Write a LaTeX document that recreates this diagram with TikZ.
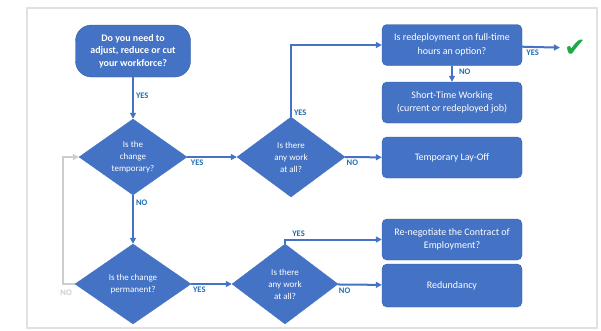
\documentclass[tikz,border=0pt]{standalone}
\usepackage{fontspec}
\setmainfont{Carlito}
\newfontfamily\symfont{DejaVu Sans}
\usetikzlibrary{shapes.geometric,arrows.meta}
\definecolor{boxblue}{RGB}{68,114,196}
\definecolor{edgeblue}{RGB}{52,90,160}
\definecolor{lblblue}{RGB}{31,110,180}
\definecolor{tickgreen}{RGB}{30,170,70}
\definecolor{loopgray}{RGB}{205,205,205}
\definecolor{framegray}{RGB}{225,225,225}
\begin{document}
\begin{tikzpicture}[x=1pt,y=-1pt,
  box/.style={draw=edgeblue,fill=boxblue,rounded corners=5pt,minimum width=140pt,minimum height=41pt,
    text=white,align=center,inner sep=2pt,font=\fontsize{10}{13.5}\selectfont},
  startbox/.style={box,rounded corners=16pt,minimum width=115pt,minimum height=52pt,
    font=\bfseries\fontsize{10}{12.5}\selectfont},
  dia/.style={diamond,draw=boxblue,fill=boxblue,text=white,align=center,inner sep=0pt,
    minimum width=108pt,minimum height=80pt,font=\fontsize{9}{12}\selectfont},
  flow/.style={draw=boxblue,line width=2pt,-{Triangle[length=6pt,width=6pt]}},
  lbl/.style={text=lblblue,inner sep=2pt,font=\bfseries\fontsize{8.5}{10}\selectfont}]
\useasboundingbox (0,0) rectangle (601,330);
\draw[framegray,line width=2.5pt] (27,8) rectangle (597,328);
% questions
\node[startbox] (need) at (133,51) {Do you need to\\adjust, reduce or cut\\your workforce?};
\node[dia,minimum width=108pt,minimum height=76pt] (temp) at (133,157) {Is the\\change\\temporary?};
\node[dia,minimum width=116pt] (perm) at (133,284) {Is the change\\permanent?};
\node[dia] (work1) at (291,157) {Is there\\any work\\at all?};
\node[dia,minimum width=106pt] (work2) at (285,284) {Is there\\any work\\at all?};
% outcomes
\node[box] (redeploy) at (452,45) {Is redeployment on full-time\\hours an option?};
\node[box] (short) at (452,102.5) {Short-Time Working\\(current or redeployed job)};
\node[box] (layoff) at (452,157.5) {Temporary Lay-Off};
\node[box] (reneg) at (452,239.5) {Re-negotiate the Contract of\\Employment?};
\node[box,minimum height=43pt] (redund) at (452,285.5) {Redundancy};
\node[text=tickgreen,inner sep=0pt,font=\symfont\fontsize{26}{26}\selectfont] (tick) at (575,48) {✔};
% connectors
\draw[flow] (need) -- node[lbl,right,pos=0.45]{YES} (temp);
\draw[flow] (temp) -- node[lbl,right,pos=0.15]{NO} (perm);
\draw[flow,draw=loopgray] (perm.west) node[lbl,text=loopgray,anchor=north east,yshift=-3pt]{NO}
  -- ++(-12,0) |- (temp.west);
\draw[flow] (temp) -- node[lbl,below,pos=0.2]{YES} (work1);
\draw[flow] (work1.north) |- node[lbl,right,pos=0.03]{YES} (redeploy.west);
\draw[flow,shorten >=4pt] (redeploy) -- node[lbl,below,pos=0.25]{YES} (tick);
\draw[flow] (redeploy) -- node[lbl,right,pos=0.4,xshift=4pt]{NO} (short);
\draw[flow] (work1) -- node[lbl,below,pos=0.2]{NO} (layoff);
\draw[flow] (perm) -- node[lbl,below,pos=0.2]{YES} (work2);
\draw[flow] (work2.north) |- node[lbl,above,pos=0.57]{YES} (reneg.west);
\draw[flow] (work2) -- node[lbl,below,pos=0.16]{NO} (redund);
\end{tikzpicture}
\end{document}
